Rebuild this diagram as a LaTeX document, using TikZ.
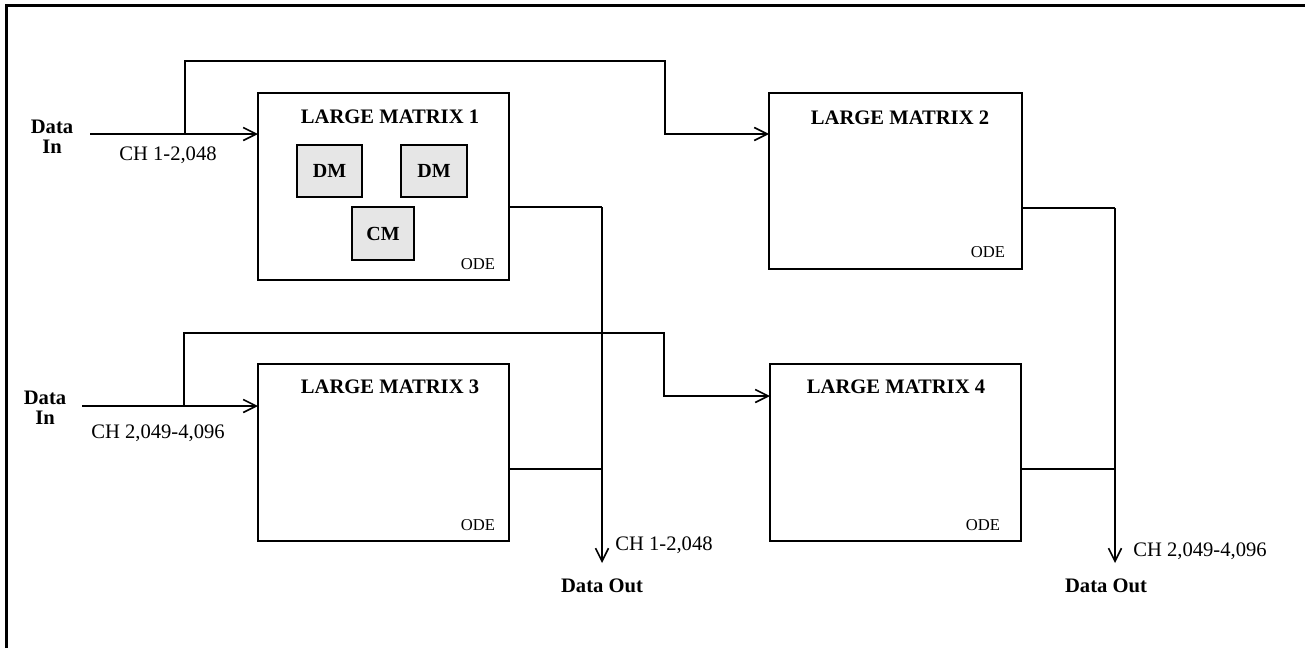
\documentclass[tikz,border=0pt]{standalone}
\usepackage{fontspec}
\setmainfont{Liberation Serif}
\usepackage{tikz}
\usetikzlibrary{arrows.meta}
\usepackage{xcolor}
\definecolor{boxgray}{RGB}{230,230,230}

\tikzset{
  matrixbox/.style={draw,line width=1pt,inner sep=0pt,outer sep=0pt,
    minimum width=125.5pt,minimum height=88.5pt},
  modbox/.style={draw,fill=boxgray,line width=1pt,inner sep=0pt,outer sep=0pt,
    minimum width=32.5pt,minimum height=26pt,font=\bfseries},
  title/.style={font=\bfseries\fontsize{10.3}{12}\selectfont,inner sep=0pt},
  odetext/.style={font=\fontsize{8.3}{10}\selectfont,inner sep=0pt},
  chtext/.style={font=\fontsize{10.3}{12}\selectfont,inner sep=0pt},
  datatext/.style={font=\bfseries\fontsize{10.3}{9.8}\selectfont,align=center,inner sep=0pt},
  wire/.style={line width=1pt},
  flow/.style={line width=1pt,-{Straight Barb[length=6.5pt,width=6.5pt,line width=0.8pt]}}
}

\begin{document}
\begin{tikzpicture}[x=0.5pt,y=-0.5pt]
        \useasboundingbox (0,0) rectangle (1305,648);
        % frame
        \draw[line width=1.5pt] (6.5,648) -- (6.5,5.5) -- (1305,5.5);
        % matrices
        \node[matrixbox,minimum height=93.5pt] (lm1) at (383.5,186.5) {};
        \node[matrixbox,minimum width=126.5pt,minimum height=88pt] (lm2) at (895.5,181) {};
        \node[matrixbox] (lm3) at (383.5,452.5) {};
        \node[matrixbox] (lm4) at (895.5,452.5) {};
        \node[title] (t1) at (390,117) {LARGE MATRIX 1};
        \node[title] (t2) at (900,118) {LARGE MATRIX 2};
        \node[title] (t3) at (390,387) {LARGE MATRIX 3};
        \node[title] (t4) at (896,387) {LARGE MATRIX 4};
        \node[odetext] (ode1) at (478,264) {ODE};
        \node[odetext] (ode2) at (988,252) {ODE};
        \node[odetext] (ode3) at (478,525) {ODE};
        \node[odetext] (ode4) at (983,525) {ODE};
        % modules
        \node[modbox] (dm1) at (329.5,171) {DM};
        \node[modbox,minimum width=33pt] (dm2) at (434,171) {DM};
        \node[modbox,minimum width=31pt,minimum height=26.5pt] (cm) at (383,233.5) {CM};
        % inputs
        \node[datatext] (din1) at (52,137) {Data\\In};
        \node[datatext] (din2) at (45,408) {Data\\In};
        \coordinate (in1) at (90,134);
        \coordinate (br1) at (185,134);
        \coordinate (up1) at (185,61);
        \coordinate (knee1) at (665,134);
        \coordinate (in2) at (82,406);
        \coordinate (br2) at (184,406);
        \coordinate (up2) at (184,333);
        \coordinate (knee2) at (664,396);
        \draw[flow] (in1) -- (in1 -| lm1.west);
        \draw[flow] (br1) -- (up1) -| (knee1) -- (knee1 -| lm2.west);
        \draw[flow] (in2) -- (in2 -| lm3.west);
        \draw[flow] (br2) -- (up2) -| (knee2) -- (knee2 -| lm4.west);
        \node[chtext] (ch1) at (168,155) {CH 1-2,048};
        \node[chtext] (ch2) at (158,433) {CH 2,049-4,096};
        % outputs
        \coordinate (o1) at (602,207);
        \coordinate (j1) at (602,469);
        \coordinate (tip1) at (602,563);
        \coordinate (o2) at (1115,208);
        \coordinate (j2) at (1115,469);
        \coordinate (tip2) at (1115,563);
        \draw[wire] (lm1.east |- o1) -- (o1);
        \draw[wire] (lm3.east |- j1) -- (j1);
        \draw[flow] (o1) -- (tip1);
        \draw[wire] (lm2.east |- o2) -- (o2);
        \draw[wire] (lm4.east |- j2) -- (j2);
        \draw[flow] (o2) -- (tip2);
        \node[chtext] (ch3) at (664,545) {CH 1-2,048};
        \node[chtext] (ch4) at (1200,551) {CH 2,049-4,096};
        \node[title] (dout1) at (602,586) {Data Out};
        \node[title] (dout2) at (1106,586) {Data Out};
\end{tikzpicture}
\end{document}
